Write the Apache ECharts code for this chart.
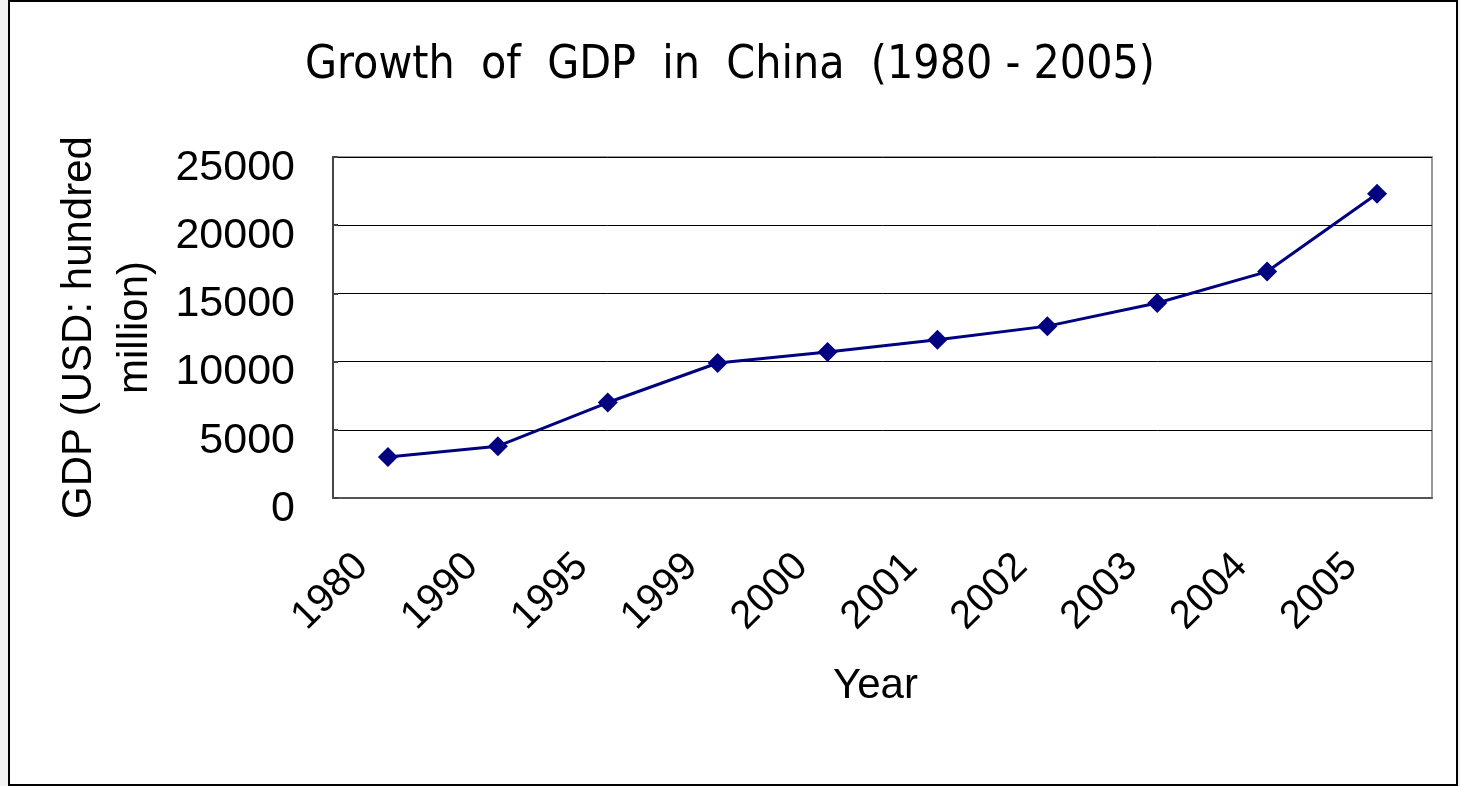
<html>
<head>
    <meta charset="utf-8" />
    <script src="https://cdn.jsdelivr.net/npm/echarts@6/dist/echarts.min.js"></script>
    <style>
        body { margin: 0; background: #f2f2f2; }
        #main { width: 1460px; height: 786px; }
    </style>
</head>
<body>
    <div id="main"></div>
    <script>
        // data
        var years = ['1980', '1990', '1995', '1999', '2000', '2001', '2002', '2003', '2004', '2005']
        var gdp = [3000, 3800, 7000, 9900, 10700, 11600, 12600, 14300, 16600, 22300]
        var yTicks = [0, 5000, 10000, 15000, 20000, 25000]

        var chart = echarts.init(document.getElementById('main'))
        var font = 'Liberation Sans, Arial, sans-serif'

        var option = {
            backgroundColor: '#f2f2f2',
            animation: false,
            graphic: [{
                type: 'rect',
                z: -10,
                shape: { x: 9, y: 1, width: 1448, height: 784 },
                style: { fill: '#fff', stroke: '#000', lineWidth: 2 }
            }],
            title: {
                text: 'Growth  of  GDP  in  China  (1980 - 2005)',
                left: 'center',
                top: 38,
                textStyle: {
                    fontFamily: '"Liberation Sans Narrow", "DejaVu Sans Condensed", sans-serif',
                    fontSize: 46,
                    fontWeight: 'normal',
                    color: '#000'
                }
            },
            grid: {
                left: 333,
                right: 28,
                top: 157,
                bottom: 288,
                show: true,
                borderColor: '#9a9a9a',
                borderWidth: 2,
                backgroundColor: '#fff'
            },
            xAxis: {
                type: 'category',
                data: years,
                boundaryGap: true,
                name: '{n|Year}',
                nameLocation: 'middle',
                nameGap: 167,
                nameTextStyle: {
                    rich: { n: { fontFamily: font, fontSize: 42, color: '#000', padding: [0, 14, 0, 0] } }
                },
                axisLine: { lineStyle: { color: '#555', width: 2 } },
                axisTick: { inside: true, length: 14, interval: 0, lineStyle: { color: '#000', width: 1 } },
                axisLabel: {
                    interval: 0,
                    rotate: 45,
                    margin: 36,
                    formatter: function (v) { return '{a|' + v + '}' },
                    rich: { a: { fontFamily: font, fontSize: 40, color: '#000', padding: [0, 37, 0, 0] } }
                }
            },
            yAxis: {
                type: 'value',
                min: yTicks[0],
                max: yTicks[yTicks.length - 1],
                interval: 5000,
                name: 'GDP (USD: hundred\nmillion)',
                nameLocation: 'middle',
                nameRotate: 90,
                nameGap: 170,
                nameTextStyle: { fontFamily: font, fontSize: 42, lineHeight: 56, color: '#000', align: 'center' },
                axisLine: { show: true, lineStyle: { color: '#444', width: 2 } },
                axisTick: { show: true, inside: true, length: 5, lineStyle: { color: '#444', width: 2 } },
                axisLabel: {
                    margin: 38,
                    verticalAlign: 'top',
                    lineHeight: 22,
                    formatter: function (v) { return String(v) },
                    fontFamily: font,
                    fontSize: 43,
                    color: '#000'
                },
                splitLine: { lineStyle: { color: '#000', width: 1 } }
            },
            series: [{
                name: 'GDP',
                type: 'line',
                data: gdp,
                symbol: 'diamond',
                symbolSize: 20,
                lineStyle: { color: '#000080', width: 3 },
                itemStyle: { color: '#000080' }
            }]
        }

        chart.setOption(option)
    </script>
</body>
</html>
